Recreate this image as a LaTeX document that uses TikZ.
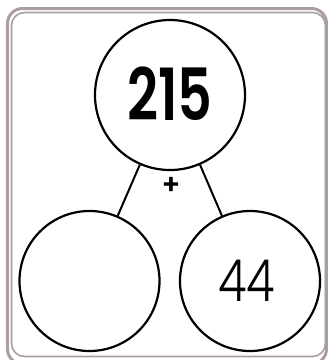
\documentclass[tikz,border=0pt]{standalone}
\usepackage{fontspec}
\setmainfont{Poppins}
\newfontfamily\poplight{Poppins Light}
\newfontfamily\popbold{Poppins SemiBold}
\definecolor{frame}{RGB}{170,158,158}
\begin{document}
\begin{tikzpicture}[x=1pt,y=-1pt,
  bubble/.style={circle,draw=black,line width=2.2pt,inner sep=0pt},
  link/.style={draw=black,line width=2pt}]
\useasboundingbox (0,0) rectangle (329,360);
\fill[white] (0,0) rectangle (329,360);
\draw[frame,line width=3pt,rounded corners=15pt] (7.5,8.5) rectangle (326.5,364);
\draw[frame,line width=1.6pt,rounded corners=13pt] (11.5,12.5) rectangle (325.5,356.5);
\node[bubble,minimum size=150pt,fill=white] (top) at (170,95) {};
\node[bubble,minimum size=140pt] (left) at (89.5,281) {};
\node[bubble,minimum size=140pt] (right) at (250,281) {};
\draw[link] (top) -- (left);
\draw[link] (top) -- (right);
\node[inner sep=0pt] (sum) at (170,94) {\popbold\fontsize{72}{72}\selectfont\scalebox{0.75}[1]{215}};
\node[inner sep=0pt] (plus) at (171,186) {\popbold\fontsize{28}{28}\selectfont +};
\node[inner sep=0pt] (part) at (246.5,281) {\poplight\fontsize{58}{58}\selectfont\scalebox{0.8}[1]{44}};
\end{tikzpicture}
\end{document}
